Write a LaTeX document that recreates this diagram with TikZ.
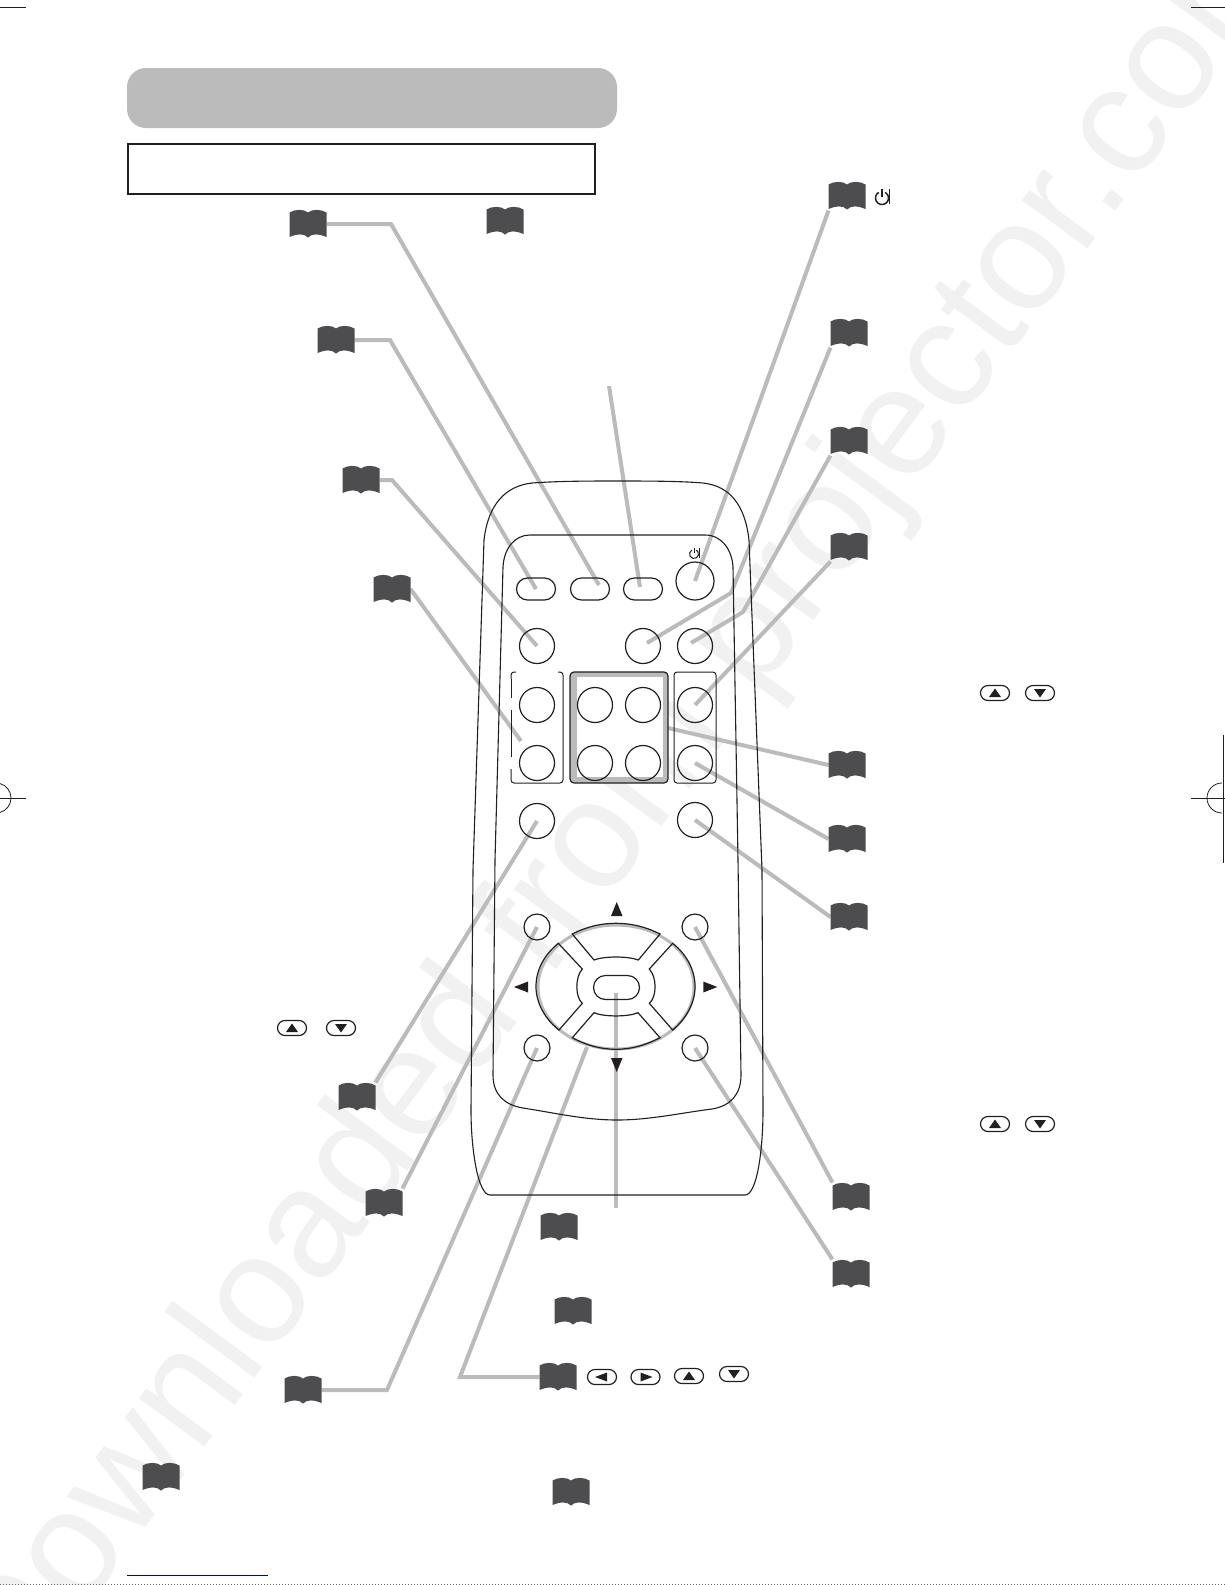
\documentclass[tikz,border=0pt]{standalone}
\usepackage{fontspec}
\setmainfont{Liberation Sans}
\usetikzlibrary{positioning,backgrounds,shapes.misc}

\definecolor{leadgray}{HTML}{BBBBBB}
\definecolor{bookgray}{HTML}{4D4D4F}
\definecolor{markgray}{HTML}{F1F1F1}
\definecolor{linedark}{HTML}{231F20}

\tikzset{
	ring/.style={draw=linedark,circle,line width=1.2pt,minimum size=35pt,inner sep=0pt,outer sep=0pt},
	smallring/.style={ring,minimum size=26pt},
	pill/.style={draw=linedark,rounded rectangle,line width=1.2pt,minimum width=39pt,minimum height=22pt,inner sep=0pt,outer sep=0pt},
	lead/.style={draw=leadgray,line width=4pt,line join=miter},
	book/.style={rectangle,minimum width=37pt,minimum height=29pt,inner sep=0pt,outer sep=0pt,
		path picture={\fill[bookgray] (-18.5,-11.5) .. controls (-13,-15) and (-4,-15) .. (0,-11.5) .. controls (4,-15) and (13,-15) .. (18.5,-11.5) -- (18.5,13) .. controls (10,9.5) and (4,9.5) .. (0,13.5) .. controls (-4,9.5) and (-10,9.5) .. (-18.5,13) -- cycle;}},
	keybase/.style={draw=linedark,rounded rectangle,line width=1.2pt,minimum width=29pt,minimum height=15pt,inner sep=0pt,outer sep=0pt},
	keyup/.style={keybase,path picture={\fill[linedark] (0,-4.5) -- (6,4) -- (-6,4) -- cycle;}},
	keydown/.style={keybase,path picture={\fill[linedark] (0,4.5) -- (6,-4) -- (-6,-4) -- cycle;}},
	keyleft/.style={keybase,path picture={\fill[linedark] (-7,0) -- (5,-4.5) -- (5,4.5) -- cycle;}},
	keyright/.style={keybase,path picture={\fill[linedark] (7,0) -- (-5,-4.5) -- (-5,4.5) -- cycle;}},
	padkey/.style={draw=linedark,line width=1.2pt,line join=miter},
	powerglyph/.pic={
		\draw[linedark] (-2.25,-3.9) arc[start angle=240,end angle=-60,radius=4.5];
		\draw[linedark] (0,-6) -- (0,-1);
		\draw[linedark] (5.2,-6.2) -- (5.2,4);
	},
}

\begin{document}
\begin{tikzpicture}[x=1pt,y=-1pt,node distance=13pt]
	\useasboundingbox (0,0) rectangle (1225,1585);

	% heading band and box
	\fill[leadgray] (127,68) [rounded corners=19pt] rectangle (617,128);
	\draw[linedark,line width=2.5pt] (128,144) rectangle (595,194);

	% remote body
	\draw[linedark,line width=1.1pt] (484,540) .. controls (488,505) and (505,486) .. (532,483) .. controls (560,481) and (590,481) .. (617,481) .. controls (645,481) and (680,481) .. (703,483) .. controls (730,486) and (745,505) .. (749,540) -- (762,870) -- (763,1110) .. controls (763,1150) and (757,1195) .. (745,1195) -- (490,1195) .. controls (478,1195) and (471,1150) .. (471,1110) -- (473,870) -- cycle;
	\draw[linedark,line width=1.1pt] (503,567) .. controls (504,548) and (515,535) .. (530,535) -- (705,535) .. controls (722,535) and (732,550) .. (733,567) -- (738,860) -- (741,1075) .. controls (741,1095) and (730,1106) .. (712,1109) .. controls (680,1113) and (650,1120) .. (617,1120) .. controls (585,1120) and (555,1113) .. (523,1108) .. controls (505,1105) and (493,1095) .. (493,1075) -- (495,860) -- cycle;

	% top rows of buttons
	\node[pill] (p1) at (536,589) {};
	\node[pill] (p2) at (590,589) {};
	\node[pill] (p3) at (643,589) {};
	\node[ring,minimum size=38pt] (pw) at (695,581) {};
	\node[ring] (m1) at (537,646) {};
	\node[ring] (m2) at (643,646) {};
	\node[ring] (m3) [right=17pt of m2] {};

	% boxes round the middle buttons
	\draw[linedark,line width=1pt,rounded corners=3pt] (516,672) -- (511,672) -- (511,679);
	\draw[linedark,line width=1pt] (511,698) -- (511,679);
	\draw[linedark,line width=1pt] (511,710) -- (511,757);
	\draw[linedark,line width=1pt,rounded corners=3pt] (511,769) -- (511,783) -- (563,783) -- (563,672) -- (558,672);
	\draw[linedark,line width=1.2pt,fill=leadgray,rounded corners=4pt] (570,672) rectangle (668,783);
	\fill[white] (577,677) rectangle (663,777);
	\draw[linedark,line width=1pt,rounded corners=3pt] (674,672) rectangle (716,783);

	\node[ring] (r1) at (537,705) {};
	\node[ring] (r2) at (595,705) {};
	\node[ring] (r3) [right=13pt of r2] {};
	\node[ring] (r4) [right=17pt of r3] {};
	\node[ring] (s1) [below=23pt of r1] {};
	\node[ring] (s2) [below=23pt of r2] {};
	\node[ring] (s3) [below=23pt of r3] {};
	\node[ring] (s4) [below=23pt of r4] {};
	\node[ring] (t1) at (537,821) {};
	\node[ring] (t2) at (695,820) {};

	% lower buttons
	\node[smallring] (u1) at (537,927) {};
	\node[smallring] (u2) at (695,927) {};
	\node[smallring] (v1) at (537,1048) {};
	\node[smallring] (v2) at (695,1048) {};

	\draw[leadgray,line width=3pt] (616,987) ellipse [x radius=78,y radius=62];
	\draw[padkey] (572.3,934) .. controls (587,926.5) and (601,923.3) .. (616,923.3) .. controls (631,923.3) and (645,926.5) .. (660,934) -- (638.3,960) .. controls (628,956) and (604,956) .. (594,960) -- cycle;
	\draw[padkey] (572.3,1037.7) .. controls (587,1045.5) and (601,1049.3) .. (616,1049.3) .. controls (631,1049.3) and (645,1045.5) .. (660,1037.7) -- (638,1012.7) .. controls (628,1017) and (604,1017) .. (594,1012.7) -- cycle;
	\draw[padkey] (558.3,943.3) .. controls (544,955) and (536,970) .. (536,986.7) .. controls (536,1003) and (545,1019) .. (559,1030) -- (582.3,1003.3) .. controls (575,997) and (575,977) .. (582.3,969) -- cycle;
	\draw[padkey] (672.7,943.3) .. controls (687,955) and (695,970) .. (695,986.7) .. controls (695,1003) and (686,1019) .. (672.7,1030) -- (649.3,1003.3) .. controls (657,997) and (657,977) .. (649.3,969) -- cycle;
	\node[pill,minimum width=46pt,minimum height=24pt] (ok) at (616.5,987.5) {};

	\fill[linedark] (616.7,902) -- (622.5,916) -- (611,916) -- cycle;
	\fill[linedark] (616.7,1072) -- (622.5,1058) -- (611,1058) -- cycle;
	\fill[linedark] (514,987) -- (528,981.5) -- (528,992.5) -- cycle;
	\fill[linedark] (717.3,987) -- (703.3,981.5) -- (703.3,992.5) -- cycle;

	\pic[line width=1pt] at (694,554) {powerglyph};
	\pic[scale=1.45,line width=1.5pt] at (882,198) {powerglyph};

	% page references, left
	\node[book] (bl1) at (308,224) {};
	\node[book] (bl2) at (505,221) {};
	\node[book] (bl3) at (336,340) {};
	\node[book] (bl4) at (361,480) {};
	\node[book] (bl5) at (392,589) {};
	\node[book] (bl6) at (357,1097) {};
	\node[book] (bl7) at (384,1203) {};
	\node[book] (bl8) at (303,1390) {};
	\node[book] (bl9) at (161,1477) {};

	% page references, right
	\node[book] (br1) at (847,196) {};
	\node[book] (br2) at (849,333) {};
	\node[book] (br3) at (849,441) {};
	\node[book] (br4) at (849,547) {};
	\node[book] (br5) at (847,765) {};
	\node[book] (br6) at (847,839) {};
	\node[book] (br7) at (849,917) {};
	\node[book] (br8) at (851,1197) {};
	\node[book] (br9) at (851,1274) {};

	% page references, bottom
	\node[book] (bb1) at (559,1227) {};
	\node[book] (bb2) at (573,1311) {};
	\node[book] (bb3) at (558,1377) {};
	\node[book] (bb4) at (571,1492) {};

	% small keys
	\node[keyleft] (ka1) at (602,1377) {};
	\node[keyright] (ka2) [right=14.5pt of ka1] {};
	\node[keyup] (ka3) at (689,1376) {};
	\node[keydown] (ka4) at (734,1374) {};
	\node[keyup] (kb1) at (995,693) {};
	\node[keydown] (kb2) [right=16pt of kb1] {};
	\node[keyup] (kc1) at (995,1124) {};
	\node[keydown] (kc2) [right=16pt of kc1] {};
	\node[keyup] (kd1) at (292,1028) {};
	\node[keydown] (kd2) [right=20pt of kd1] {};

	% free ends and bends of the leads
	\coordinate (a1) at (391,224);
	\coordinate (a1e) at (599,585);
	\coordinate (a2) at (390,340);
	\coordinate (a3) at (392,480);
	\coordinate (a4e) at (521,741);
	\coordinate (a5) at (609,386);
	\coordinate (a5e) at (640,587);
	\coordinate (a6) at (731,593);
	\coordinate (a6e) at (647,643);
	\coordinate (a7) at (743,612);
	\coordinate (a7e) at (691,643);
	\coordinate (a8e) at (668,728);
	\coordinate (a9) at (616,993);
	\coordinate (a9e) at (616,1208);
	\coordinate (a10) at (387,1390);
	\coordinate (a11) at (460,1377);
	\coordinate (a11e) at (587,1047);

	\begin{scope}[on background layer]
		\begin{scope}
			\clip (0,0) rectangle (1225,1585);
			\node[text=markgray,rotate=53.6,anchor=base east,font=\fontsize{154}{154}\selectfont] (wm) at (1307.5,-49) {Downloaded from projector.com};
		\end{scope}
		\draw[lead] (bl1.east) -- (a1) -- (a1e);
		\draw[lead] (bl3.east) -- (a2) -- (p1.center);
		\draw[lead] (bl4.east) -- (a3) -- (m1.center);
		\draw[lead] (bl5.east) -- (a4e);
		\draw[lead] (a5) -- (a5e);
		\draw[lead] (br1.south west) -- (pw.center);
		\draw[lead] (br2.south west) -- (a6) -- (a6e);
		\draw[lead] (br3.south west) -- (a7) -- (a7e);
		\draw[lead] (br4.south west) -- (r4.center);
		\draw[lead] (br5.west) -- (a8e);
		\draw[lead] (br6.west) -- (s4.center);
		\draw[lead] (br7.west) -- (t2.center);
		\draw[lead] (br8.north west) -- (u2.center);
		\draw[lead] (br9.north west) -- (v2.center);
		\draw[lead] (bl6.north east) -- (t1.center);
		\draw[lead] (bl7.north east) -- (u1.center);
		\draw[lead] (bl8.east) -- (a10) -- (v1.center);
		\draw[lead] (bb3.west) -- (a11) -- (a11e);
		\draw[lead] (a9) -- (a9e);
	\end{scope}

	% trim and register marks
	\draw[linedark,line width=1pt] (0,7) -- (26,7);
	\draw[linedark,line width=1pt] (1191,7) -- (1225,7);
	\draw[linedark,line width=0.8pt] (0,798) -- (26,798);
	\draw[linedark,line width=0.8pt] (11,798) arc[start angle=0,end angle=75,radius=15];
	\draw[linedark,line width=0.8pt] (11,798) arc[start angle=0,end angle=-75,radius=15];
	\draw[linedark,line width=0.8pt] (1191,798) -- (1225,798);
	\draw[linedark,line width=0.8pt] (1223,735) -- (1223,863);
	\draw[linedark,line width=0.8pt] (1222,783) arc[start angle=-90,end angle=-270,radius=15];
	\draw[blue!80!black,line width=1pt] (127,1575) -- (268,1575);
	\draw[black!60,line width=1pt,dotted] (0,1584.5) -- (1225,1584.5);
\end{tikzpicture}
\end{document}
